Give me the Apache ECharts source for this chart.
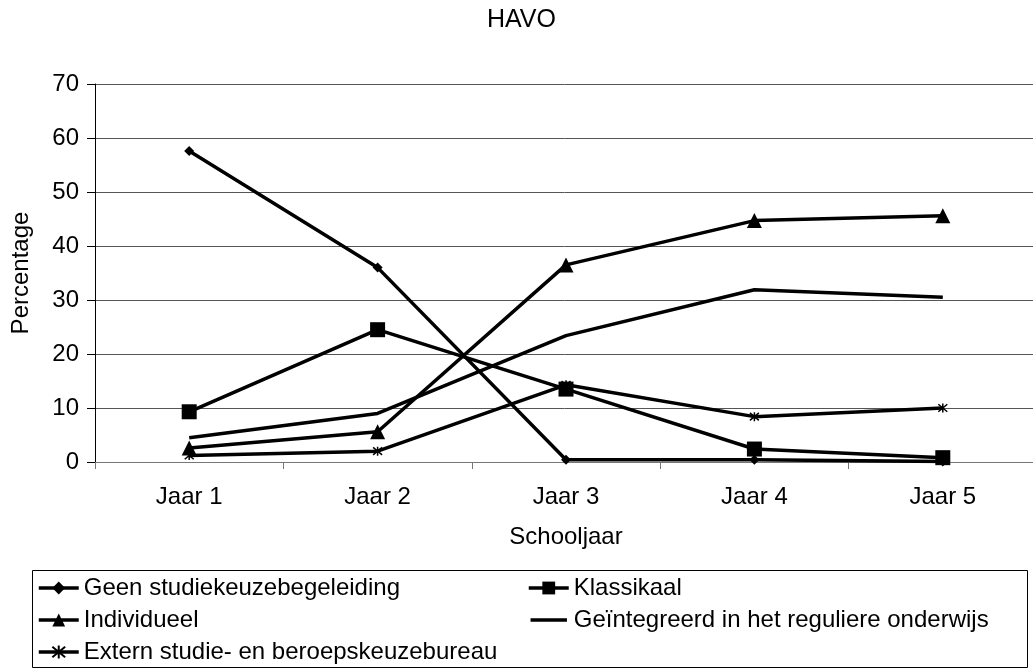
<!DOCTYPE html>
<html>
<head>
<meta charset="utf-8">
<script src="https://cdn.jsdelivr.net/npm/echarts@6/dist/echarts.min.js"></script>
<style>
  html, body { margin: 0; padding: 0; background: #fff; }
  #chart { width: 1033px; height: 670px; }
</style>
</head>
<body>
<div id="chart"></div>
<script>
var years = ['Jaar 1', 'Jaar 2', 'Jaar 3', 'Jaar 4', 'Jaar 5'];
var geen = [57.6, 36.0, 0.4, 0.4, 0.1];
var klassikaal = [9.3, 24.5, 13.5, 2.4, 0.8];
var individueel = [2.6, 5.6, 36.5, 44.7, 45.6];
var geintegreerd = [4.5, 9.0, 23.4, 31.9, 30.5];
var extern = [1.2, 2.0, 14.3, 8.4, 10.0];

var font = 'Liberation Sans, Arial, sans-serif';
var fs = 24;
var starPath = 'path://M0,0L10,10M10,0L0,10M5,-1L5,11';
// plain thick line for the legend of the series without markers
var barIcon = 'path://M0,0L0.01,0M0,7H41V11H0ZM0,18L0.01,18';

function serie(name, data, symbol, size, extra) {
    var s = {
        name: name,
        type: 'line',
        data: data,
        symbol: symbol,
        symbolSize: size,
        showSymbol: symbol !== 'none',
        lineStyle: { color: '#000', width: 3.5 },
        itemStyle: { color: '#000', borderColor: '#000', borderWidth: 0 },
        emphasis: { disabled: true },
        animation: false
    };
    if (extra) {
        s.itemStyle = extra;
    }
    return s;
}

var legendText = { fontFamily: font, fontSize: fs, color: '#000' };

var chart = echarts.init(document.getElementById('chart'));
var option = {
    backgroundColor: '#fff',
    textStyle: { fontFamily: font },
    title: {
        text: 'HAVO',
        left: 482,
        top: 3,
        textStyle: { fontFamily: font, fontSize: 25, fontWeight: 'normal', color: '#000' }
    },
    grid: {
        left: 95,
        top: 84,
        width: 942,
        height: 378,
        outerBoundsMode: 'none'
    },
    legend: [
        {
            orient: 'vertical',
            left: 37,
            top: 576,
            padding: 0,
            itemWidth: 40,
            itemHeight: 16,
            itemGap: 8,
            lineStyle: { width: 3.5 },
            textStyle: legendText,
            data: ['Geen studiekeuzebegeleiding', 'Individueel', 'Extern studie- en beroepskeuzebureau']
        },
        {
            orient: 'vertical',
            left: 527,
            top: 576,
            padding: 0,
            itemWidth: 40,
            itemHeight: 16,
            itemGap: 8,
            lineStyle: { width: 3.5 },
            textStyle: legendText,
            data: ['Klassikaal', { name: 'Geïntegreerd in het reguliere onderwijs', icon: barIcon }]
        }
    ],
    graphic: [
        {
            type: 'rect',
            shape: { x: 32.5, y: 570.5, width: 995, height: 97 },
            style: { fill: 'none', stroke: '#000', lineWidth: 1 },
            silent: true
        }
    ],
    xAxis: {
        type: 'category',
        data: years,
        boundaryGap: true,
        name: 'Schooljaar',
        nameLocation: 'middle',
        nameGap: 63,
        nameTextStyle: { fontFamily: font, fontSize: fs, color: '#000' },
        axisLine: { lineStyle: { color: '#777', width: 1 } },
        axisTick: { show: true, length: 7, lineStyle: { color: '#777' } },
        axisLabel: { fontFamily: font, fontSize: fs, color: '#000', margin: 23 },
        splitLine: { show: false }
    },
    yAxis: {
        type: 'value',
        min: 0,
        max: 70,
        interval: 10,
        name: 'Percentage',
        nameLocation: 'middle',
        nameGap: 62,
        nameTextStyle: { fontFamily: font, fontSize: fs, color: '#000' },
        axisLine: { show: true, lineStyle: { color: '#000', width: 1 } },
        axisTick: { show: true, length: 8, lineStyle: { color: '#000' } },
        axisLabel: { fontFamily: font, fontSize: fs, color: '#000', margin: 16 },
        splitLine: { show: true, lineStyle: { color: '#555', width: 1 } }
    },
    series: [
        serie('Geen studiekeuzebegeleiding', geen, 'diamond', 10),
        serie('Klassikaal', klassikaal, 'rect', 15),
        serie('Individueel', individueel, 'triangle', 15),
        serie('Geïntegreerd in het reguliere onderwijs', geintegreerd, 'none', 0),
        serie('Extern studie- en beroepskeuzebureau', extern, starPath, 9,
            { color: '#fff', borderColor: '#000', borderWidth: 1.5 })
    ]
};
chart.setOption(option);
</script>
</body>
</html>
